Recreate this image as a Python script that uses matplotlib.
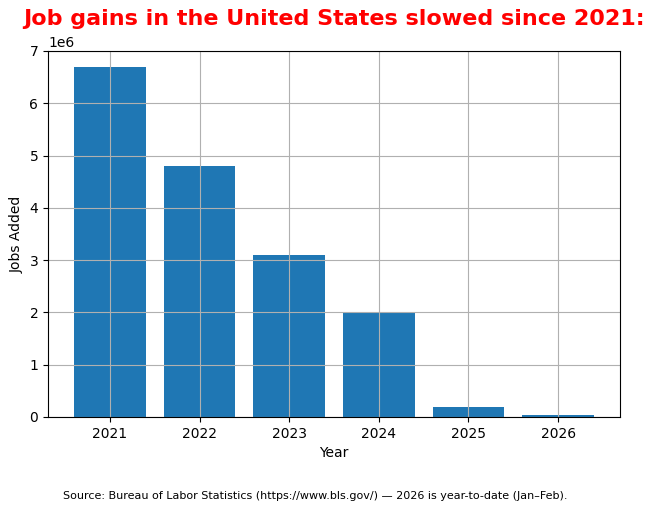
import matplotlib
matplotlib.use('Agg')
import matplotlib.pyplot as plt

years = ['2021', '2022', '2023', '2024', '2025', '2026']
jobs_added = [6.7e6, 4.8e6, 3.1e6, 2.0e6, 0.19e6, 0.04e6]

fig, ax = plt.subplots(figsize=(6.54, 5.11), dpi=100)
fig.subplots_adjust(left=0.0734, right=0.948, top=0.9002, bottom=0.184)

ax.bar(years, jobs_added, color='#1f77b4')
ax.set_ylim(0, 7e6)
ax.set_xlabel('Year')
ax.set_ylabel('Jobs Added')
ax.grid(True)

ax.set_title('Job gains in the United States slowed since 2021:',
             fontsize=16, fontweight='bold', color='red', pad=8)

fig.text(0.482, 0.03,
         'Source: Bureau of Labor Statistics (https://www.bls.gov/) \u2014 2026 is year-to-date (Jan\u2013Feb).',
         ha='center', va='center', fontsize=8)

fig.savefig('out.png', dpi=100)
